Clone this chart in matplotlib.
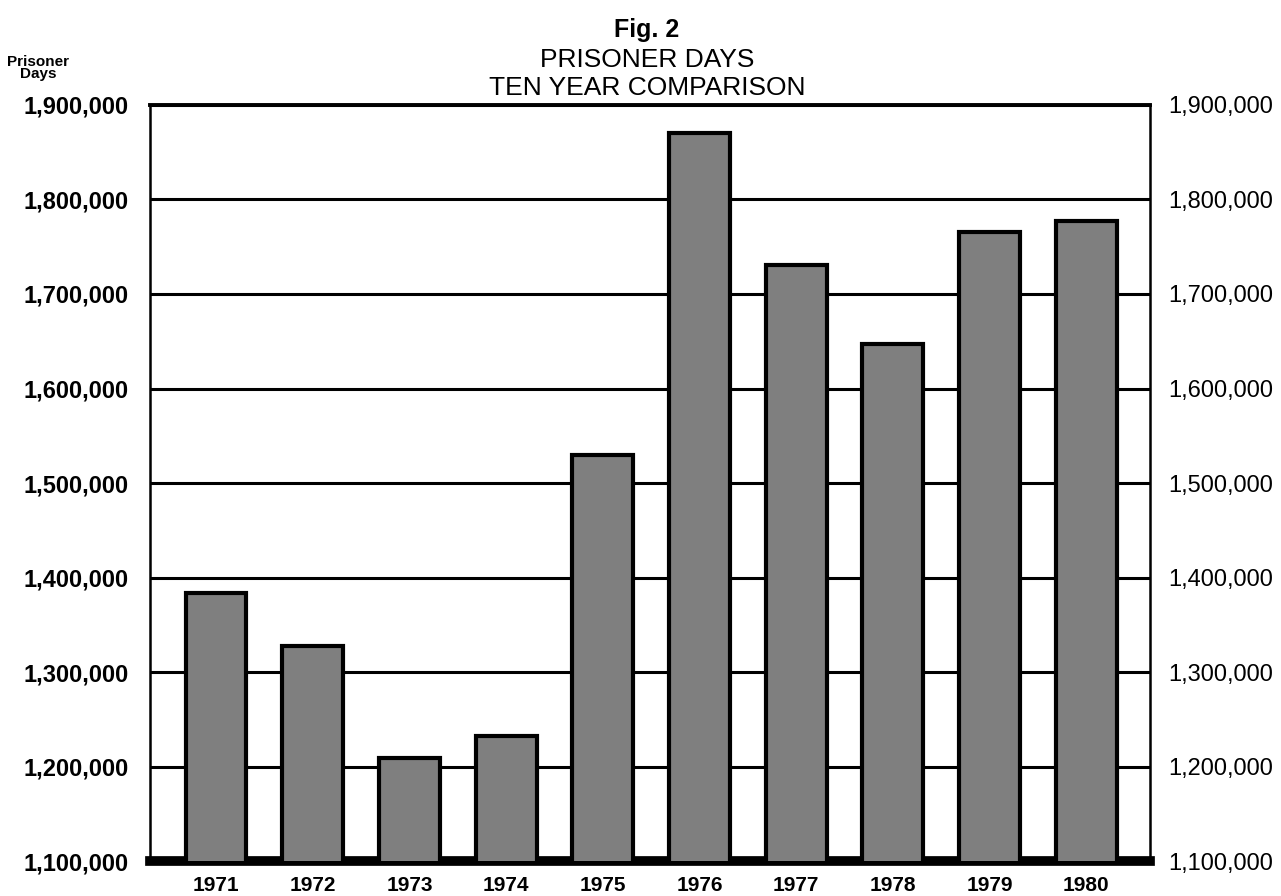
import matplotlib
matplotlib.use("Agg")
import matplotlib.pyplot as plt
from matplotlib.ticker import FuncFormatter

plt.rcParams["font.family"] = ["Liberation Sans", "DejaVu Sans"]

# data
years = ["1971", "1972", "1973", "1974", "1975",
         "1976", "1977", "1978", "1979", "1980"]
prisoner_days = [1384000, 1328000, 1209000, 1232000, 1530000,
                 1870000, 1731000, 1647000, 1766000, 1777000]
y_ticks = [1100000, 1200000, 1300000, 1400000, 1500000,
           1600000, 1700000, 1800000, 1900000]

fig = plt.figure(figsize=(12.81, 8.96), dpi=100)
ax = fig.add_axes([150 / 1281, 35 / 896, 1000 / 1281, 756 / 896])

x = list(range(len(years)))
ax.bar(x, prisoner_days, width=0.63, color="#7f7f7f",
       edgecolor="black", linewidth=3, zorder=3)

ax.set_xlim(-0.683, 9.66)
ax.set_ylim(y_ticks[0], y_ticks[-1])
ax.set_yticks(y_ticks)
ax.yaxis.set_major_formatter(FuncFormatter(lambda v, _: f"{int(v):,}"))
ax.yaxis.grid(True, color="black", linewidth=2.2)
ax.set_axisbelow(True)

ax.set_xticks(x)
ax.set_xticklabels(years, fontsize=15, fontweight="bold")
ax.tick_params(axis="x", length=0, pad=11)
ax.tick_params(axis="y", length=0, pad=15.5, labelsize=17)
for lab in ax.get_yticklabels():
    lab.set_fontweight("bold")

ax.spines["top"].set_linewidth(2.8)
ax.spines["left"].set_linewidth(1.8)
ax.spines["right"].set_linewidth(1.8)
ax.spines["bottom"].set_linewidth(7)

# same scale repeated on the right
ax2 = ax.twinx()
ax2.set_ylim(ax.get_ylim())
ax2.set_yticks(y_ticks)
ax2.yaxis.set_major_formatter(FuncFormatter(lambda v, _: f"{int(v):,}"))
ax2.tick_params(axis="y", length=0, pad=13, labelsize=17)
for s in ax2.spines.values():
    s.set_visible(False)

fig.text(647 / 1281, 1 - 30 / 896, "Fig. 2", ha="center", va="center",
         fontsize=18, fontweight="bold")
fig.text(647 / 1281, 1 - 60 / 896, "PRISONER DAYS", ha="center",
         va="center", fontsize=19, fontweight="medium")
fig.text(647 / 1281, 1 - 88 / 896, "TEN YEAR COMPARISON", ha="center",
         va="center", fontsize=19, fontweight="medium")
fig.text(38 / 1281, 1 - 68 / 896, "Prisoner\nDays", ha="center",
         va="center", fontsize=11, fontweight="bold", linespacing=0.85)

fig.savefig("out.png", dpi=100)
